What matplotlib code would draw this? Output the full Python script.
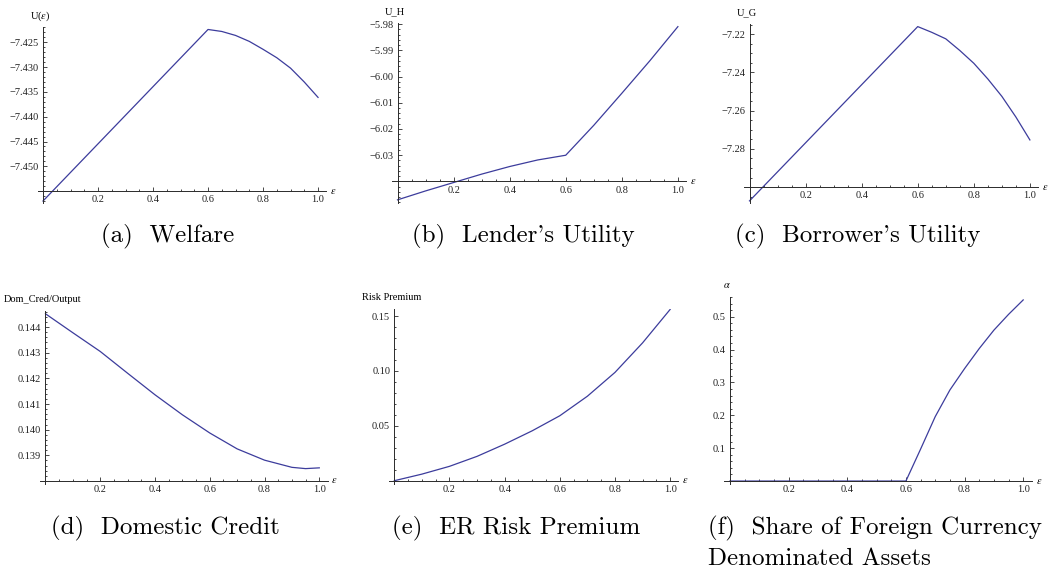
import matplotlib
matplotlib.use('Agg')
import matplotlib.pyplot as plt
from matplotlib.ticker import MultipleLocator

plt.rcParams['font.family'] = ['Liberation Serif', 'DejaVu Serif']
plt.rcParams['mathtext.fontset'] = 'stix'

# values (x = epsilon)
eps_welfare = [0, 0.6, 0.65, 0.7, 0.75, 0.8, 0.85, 0.9, 0.95, 1.0]
welfare = [-7.4570, -7.4224, -7.4228, -7.4236, -7.4248, -7.4264, -7.4281, -7.4302, -7.4330, -7.4361]

eps_lender = [0, 0.1, 0.2, 0.3, 0.4, 0.5, 0.6, 0.7, 0.8, 0.9, 1.0]
lender = [-6.0470, -6.0436, -6.0404, -6.0372, -6.0343, -6.0318, -6.0300, -6.0186, -6.0064, -5.9940, -5.9810]

eps_borrower = [0, 0.6, 0.65, 0.7, 0.75, 0.8, 0.85, 0.9, 0.95, 1.0]
borrower = [-7.3072, -7.2160, -7.2190, -7.2224, -7.2285, -7.2352, -7.2434, -7.2525, -7.2633, -7.2753]

eps_credit = [0, 0.1, 0.2, 0.3, 0.4, 0.5, 0.6, 0.7, 0.8, 0.9, 0.95, 1.0]
dom_credit = [0.14452, 0.14378, 0.14305, 0.14220, 0.14136, 0.14058, 0.13987, 0.13925, 0.13881, 0.13853, 0.13848, 0.13851]

eps_premium = [0, 0.1, 0.2, 0.3, 0.4, 0.5, 0.6, 0.7, 0.8, 0.9, 1.0]
premium = [0.0, 0.0060, 0.0131, 0.0222, 0.0333, 0.0455, 0.0592, 0.0770, 0.0987, 0.1256, 0.1561]

eps_share = [0, 0.6, 0.65, 0.7, 0.75, 0.8, 0.85, 0.9, 0.95, 1.0]
share = [0, 0, 0.097, 0.196, 0.277, 0.342, 0.403, 0.459, 0.507, 0.551]

x_ticks = [0.2, 0.4, 0.6, 0.8, 1.0]
yt_welfare = [-7.450, -7.445, -7.440, -7.435, -7.430, -7.425]
yt_lender = [-6.03, -6.02, -6.01, -6.00, -5.99, -5.98]
yt_borrower = [-7.28, -7.26, -7.24, -7.22]
yt_credit = [0.139, 0.140, 0.141, 0.142, 0.143, 0.144]
yt_premium = [0.05, 0.10, 0.15]
yt_share = [0.1, 0.2, 0.3, 0.4, 0.5]

captions = ["(a)  Welfare", "(b)  Lender's Utility", "(c)  Borrower's Utility",
            "(d)  Domestic Credit", "(e)  ER Risk Premium",
            "(f)  Share of Foreign Currency", "Denominated Assets"]

W, H = 1054, 576
fig = plt.figure(figsize=(W / 100, H / 100), dpi=100)
blue = '#3c3c9c'
acol = '#2a2a2a'


def fmt(v, nd):
    return (('%.' + str(nd) + 'f') % v).replace('-', '\u2212')


def panel(box, ylim, cross, x, y, yt, ndec, ymin_step, ylabel):
    l, t, r, b = box
    ax = fig.add_axes([l / W, 1 - b / H, (r - l) / W, (b - t) / H])
    ax.plot(x, y, color=blue, lw=0.9)
    ax.set_xlim(-0.02, 1.03)
    ax.set_ylim(*ylim)
    ax.spines['left'].set_position(('data', 0))
    ax.spines['bottom'].set_position(('data', cross))
    ax.spines['top'].set_visible(False)
    ax.spines['right'].set_visible(False)
    for s in ('left', 'bottom'):
        ax.spines[s].set_color(acol)
        ax.spines[s].set_linewidth(0.7)
    ax.set_xticks(x_ticks)
    ax.set_xticklabels([fmt(v, 1) for v in x_ticks])
    ax.xaxis.set_minor_locator(MultipleLocator(0.05))
    ax.set_yticks(yt)
    ax.set_yticklabels([fmt(v, ndec) for v in yt])
    ax.yaxis.set_minor_locator(MultipleLocator(ymin_step))
    ax.tick_params(which='both', direction='in', colors=acol, width=0.6,
                   labelsize=7.5, labelcolor='#222222', pad=3)
    ax.tick_params(which='major', length=3.2)
    ax.tick_params(which='minor', length=1.6)
    ax.patch.set_visible(False)
    ax.annotate(ylabel, xy=(0, ylim[1]), xycoords='data', xytext=(-2, 8),
                textcoords='offset points', ha='center', va='center', fontsize=7.5,
                annotation_clip=False)
    ax.annotate('$\\epsilon$', xy=(1.03, cross), xycoords='data', xytext=(5, 0),
                textcoords='offset points', ha='center', va='center', fontsize=7.5,
                annotation_clip=False)
    return ax


panel((37.5, 27, 326.3, 203), (-7.4574, -7.4219), -7.455,
      eps_welfare, welfare, yt_welfare, 3, 0.001, 'U($\\epsilon$)')
panel((391.9, 22.7, 686.3, 203), (-6.0482, -5.9795), -6.04,
      eps_lender, lender, yt_lender, 2, 0.002, 'U_H')
panel((743.9, 24.3, 1038.3, 203), (-7.3083, -7.2148), -7.30,
      eps_borrower, borrower, yt_borrower, 2, 0.005, 'U_G')
panel((40, 310.7, 327.5, 484), (0.13788, 0.14464), 0.138,
      eps_credit, dom_credit, yt_credit, 3, 0.0002, 'Dom_Cred/Output')
panel((388.8, 309, 678.4, 484), (-0.0030, 0.1565), 0.0,
      eps_premium, premium, yt_premium, 2, 0.01, 'Risk Premium')
panel((724.1, 296.7, 1032, 484), (-0.009, 0.5608), 0.0,
      eps_share, share, yt_share, 1, 0.02, '$\\alpha$')

cap_kw = dict(family='cmr10', fontsize=18, va='baseline')
fig.text(168 / W, 1 - 242 / H, captions[0], ha='center', **cap_kw)
fig.text(523 / W, 1 - 242 / H, captions[1], ha='center', **cap_kw)
fig.text(858 / W, 1 - 242 / H, captions[2], ha='center', **cap_kw)
fig.text(165 / W, 1 - 534 / H, captions[3], ha='center', **cap_kw)
fig.text(516 / W, 1 - 534 / H, captions[4], ha='center', **cap_kw)
fig.text(708 / W, 1 - 534 / H, captions[5], ha='left', **cap_kw)
fig.text(708 / W, 1 - 565 / H, captions[6], ha='left', **cap_kw)

fig.savefig('out.png', dpi=100)
